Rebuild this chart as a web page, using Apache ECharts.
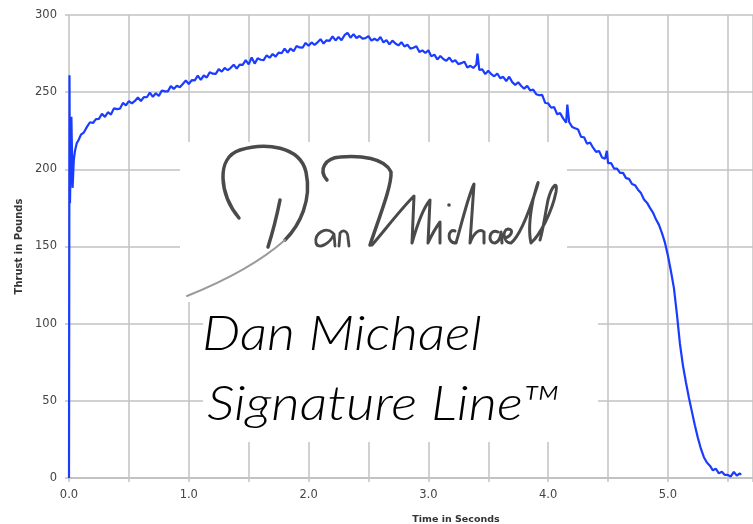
<!DOCTYPE html>
<html>
<head>
<meta charset="utf-8">
<script src="https://cdn.jsdelivr.net/npm/echarts@6/dist/echarts.min.js"></script>
<style>html,body{margin:0;padding:0;background:#fff;}#chart{width:753px;height:524px;}</style>
</head>
<body>
<div id="chart"></div>
<script>
// Thrust curve [time in seconds, thrust in pounds]
var thrustCurve = [
[0.000,0],[0.004,261],[0.008,178],[0.020,234],[0.030,188],[0.040,206],[0.050,212],[0.065,217],[0.080,219],
[0.100,222.5],[0.125,224],[0.150,227.5],[0.175,230.5],[0.200,230],[0.225,232.5],[0.250,232.7],[0.275,236],[0.300,234],
[0.325,237],[0.350,235.5],[0.375,239.5],[0.400,239],[0.425,239.3],[0.450,243],[0.475,241.5],[0.500,244.2],[0.525,242.7],
[0.550,244.3],[0.575,246.5],[0.600,244.3],[0.625,246.8],[0.650,246.7],[0.675,249.7],[0.700,247],[0.725,249.3],[0.750,247.5],
[0.775,251.1],[0.800,250.5],[0.825,250.5],[0.850,253.9],[0.875,252.1],[0.900,254.2],[0.925,253.2],[0.950,255.3],[0.975,257.5],
[1.000,255.3],[1.025,257.8],[1.050,257.7],[1.075,260.7],[1.100,258],[1.125,260.8],[1.150,259.5],[1.175,262.9],[1.200,262],
[1.225,261.8],[1.250,264.9],[1.275,263.3],[1.300,265.7],[1.325,264.2],[1.350,265.8],[1.375,267.8],[1.400,265.3],[1.425,267.8],
[1.450,267.7],[1.475,270.7],[1.500,268],[1.525,272.5],[1.550,268.5],[1.575,271.9],[1.600,271],[1.625,270.8],[1.650,273.9],
[1.675,272.3],[1.700,274.7],[1.725,273],[1.750,275.6],[1.775,275.2],[1.800,278.2],[1.825,275.7],[1.850,278.3],[1.875,276.5],
[1.900,279.9],[1.925,279],[1.950,278.8],[1.975,281.9],[2.000,280.1],[2.025,282.2],[2.050,280.7],[2.075,282.3],[2.100,284.3],
[2.125,281.5],[2.150,283.6],[2.175,283.2],[2.200,286.2],[2.225,283.5],[2.250,285.8],[2.275,283.7],[2.300,286.9],[2.325,288.5],
[2.350,285.3],[2.375,287.6],[2.400,285.1],[2.425,286.4],[2.450,284.7],[2.475,285],[2.500,286.3],[2.525,283.4],[2.550,284.6],
[2.575,283.4],[2.600,285.7],[2.625,282.2],[2.650,283.8],[2.675,281],[2.700,283.4],[2.725,281.5],[2.750,280.3],[2.775,282.4],
[2.800,279.6],[2.825,280.7],[2.850,278.2],[2.875,278.8],[2.900,279.8],[2.925,276],[2.950,277.1],[2.975,275.4],[3.000,277.2],
[3.025,273.2],[3.050,274.3],[3.075,271.2],[3.100,273.4],[3.125,271.5],[3.150,270.3],[3.175,272.4],[3.200,269.6],[3.225,270.7],
[3.250,268.2],[3.275,268.8],[3.300,269.8],[3.325,266],[3.350,267.1],[3.375,265.7],[3.400,267.7],[3.410,275],[3.425,264.5],
[3.450,264.8],[3.475,261.7],[3.500,263.9],[3.525,261.7],[3.550,260.3],[3.575,262.1],[3.600,259.1],[3.625,259.9],[3.650,257.2],
[3.675,260],[3.700,256.5],[3.725,254.7],[3.750,256.4],[3.775,254],[3.800,252.3],[3.825,254.1],[3.850,251.1],[3.875,251.7],
[3.900,248.7],[3.925,248],[3.950,248.2],[3.975,243],[4.000,242.8],[4.025,239.9],[4.050,240.3],[4.075,235.7],[4.100,236.4],
[4.125,233],[4.150,230.3],[4.160,242],[4.175,230.7],[4.200,227.5],[4.225,226.6],[4.250,225.8],[4.275,221],[4.300,220.8],
[4.325,216.5],[4.350,217.4],[4.375,214],[4.400,211.3],[4.425,211.9],[4.450,207.6],[4.475,206.8],[4.490,212],[4.500,204],
[4.525,204.1],[4.550,200.5],[4.575,200.5],[4.600,197.7],[4.625,197.7],[4.650,194.3],[4.675,193.8],[4.700,190.5],[4.725,189.7],
[4.750,186.8],[4.775,184.6],[4.800,180.5],[4.825,178.4],[4.850,175],[4.875,172],[4.900,167.6],[4.925,164],[4.950,158.7],
[4.975,152.5],[5.000,144],[5.025,134],[5.050,123],[5.075,106],[5.100,87],[5.125,73],[5.150,62],[5.175,52],[5.200,43],
[5.225,34],[5.250,26],[5.275,19],[5.300,13.5],[5.325,10],[5.350,8],[5.375,5],[5.400,6],[5.425,3],[5.450,4],
[5.475,2],[5.500,2],[5.525,1],[5.550,4],[5.575,1.5],[5.600,3],[5.610,2]
];
var yTicks = [0, 50, 100, 150, 200, 250, 300];
var xLabelValues = [0, 1, 2, 3, 4, 5];
var xTitle = 'Time in Seconds';
var yTitle = 'Thrust in Pounds';
var logoLine1 = 'Dan Michael';
var logoLine2 = 'Signature Line\u2122';

// decorative signature strokes (not data)
var sigStrokes = [
  {d: 'M239,218 C220,195 215,158 240,150 C265,142 300,146 306,172 C312,200 300,225 285,240', c: '#4a4a4a', w: 3.5},
  {d: 'M285,240 C260,262 222,282 187,296', c: '#9a9a9a', w: 2},
  {d: 'M280,200 Q275,225 268,247', c: '#4a4a4a', w: 3.5},
  {d: 'M327,180 C318,170 325,158 340,157 C360,155 385,158 391,172 C392,185 380,215 370,245', c: '#4a4a4a', w: 3.5},
  {d: 'M333,233 C325,226 314,234 316,243 C318,250 330,244 334,234 L335,246 M339,246 L340,233 C343,229 348,231 348,238 L349,246', c: '#4a4a4a', w: 2.8},
  {d: 'M372,245 C385,230 400,210 414,196 L412,243 C418,222 424,207 430,200 L428,243 C433,232 437,226 440,222 L440,243 M455,231 C448,228 446,243 456,243 C460,230 468,196 474,184 L470,243 C474,232 480,228 484,232 L484,243 M498,232 C489,228 487,243 495,243 C499,242 501,236 501,232 L502,243 M505,238 C512,236 514,229 508,229 C502,230 503,243 511,243 C520,236 528,215 536,190 C540,178 538,180 533,200 C530,215 528,230 531,243 C540,235 552,212 556,192 C558,180 552,185 548,200 C545,215 543,230 540,240', c: '#4a4a4a', w: 3}
];

var gridColor = '#c2c2c2';
var chart = echarts.init(document.getElementById('chart'), null, {renderer: 'canvas'});

var graphics = [
  {type: 'rect', z: 3, silent: true, shape: {x: 180, y: 142, width: 387, height: 160}, style: {fill: '#ffffff'}},
  {type: 'rect', z: 3, silent: true, shape: {x: 203, y: 302, width: 395, height: 140}, style: {fill: '#ffffff'}}
];
sigStrokes.forEach(function (s, i) {
  var name = 'sigStroke' + i;
  try {
    echarts.graphic.registerShape(name, echarts.graphic.extendPath(s.d, {}));
    graphics.push({type: name, z: 4, silent: true, style: {fill: 'none', stroke: s.c, lineWidth: s.w, lineCap: 'round', lineJoin: 'round'}});
  } catch (e) {}
});
graphics.push({type: 'circle', z: 4, silent: true, shape: {cx: 449, cy: 205, r: 1.8}, style: {fill: '#4a4a4a'}});
graphics.push({type: 'text', z: 4, silent: true, x: 202, y: 335, scaleX: 1.13, style: {x: 0, y: 0, text: logoLine1, fontFamily: 'Lato', fontStyle: 'italic', fontWeight: 300, fontSize: 48, fill: '#000', textVerticalAlign: 'middle'}});
graphics.push({type: 'text', z: 4, silent: true, x: 207, y: 405, scaleX: 1.15, style: {x: 0, y: 0, text: logoLine2, fontFamily: 'Lato', fontStyle: 'italic', fontWeight: 300, fontSize: 48, fill: '#000', textVerticalAlign: 'middle'}});

var option = {
  animation: false,
  backgroundColor: '#ffffff',
  grid: {left: 69, top: 15, right: 0, bottom: 46, containLabel: false, outerBoundsMode: 'none'},
  xAxis: {
    type: 'value', min: 0, max: 5.71, interval: 0.5,
    name: xTitle, nameLocation: 'middle', nameGap: 37,
    nameTextStyle: {fontFamily: 'DejaVu Sans', fontSize: 9.5, fontWeight: 'bold', color: '#333', padding: [0, 0, 0, 90]},
    axisLine: {show: true, lineStyle: {color: gridColor, width: 2}},
    axisTick: {show: true, length: 4, lineStyle: {color: gridColor, width: 1.5}},
    axisLabel: {
      margin: 11, fontFamily: 'DejaVu Sans', fontSize: 11.5, color: '#444',
      formatter: function (v) {
        for (var i = 0; i < xLabelValues.length; i++) { if (Math.abs(v - xLabelValues[i]) < 1e-6) return xLabelValues[i].toFixed(1); }
        return '';
      }
    },
    splitLine: {show: true, lineStyle: {color: gridColor, width: 1.5}}
  },
  yAxis: {
    type: 'value', min: yTicks[0], max: yTicks[yTicks.length - 1], interval: yTicks[1] - yTicks[0],
    name: yTitle, nameLocation: 'middle', nameGap: 44, nameRotate: 90,
    nameTextStyle: {fontFamily: 'DejaVu Sans', fontSize: 10, fontWeight: 'bold', color: '#333'},
    axisLine: {show: false},
    axisTick: {show: true, length: 4, lineStyle: {color: gridColor, width: 1.5}},
    axisLabel: {margin: 12, fontFamily: 'DejaVu Sans', fontSize: 11.5, color: '#444'},
    splitLine: {show: true, lineStyle: {color: gridColor, width: 1.5}}
  },
  series: [{
    type: 'line', data: thrustCurve, showSymbol: false, symbol: 'none', z: 5,
    lineStyle: {color: '#1a3cff', width: 2.2}
  }],
  graphic: graphics
};
chart.setOption(option);
</script>
</body>
</html>
